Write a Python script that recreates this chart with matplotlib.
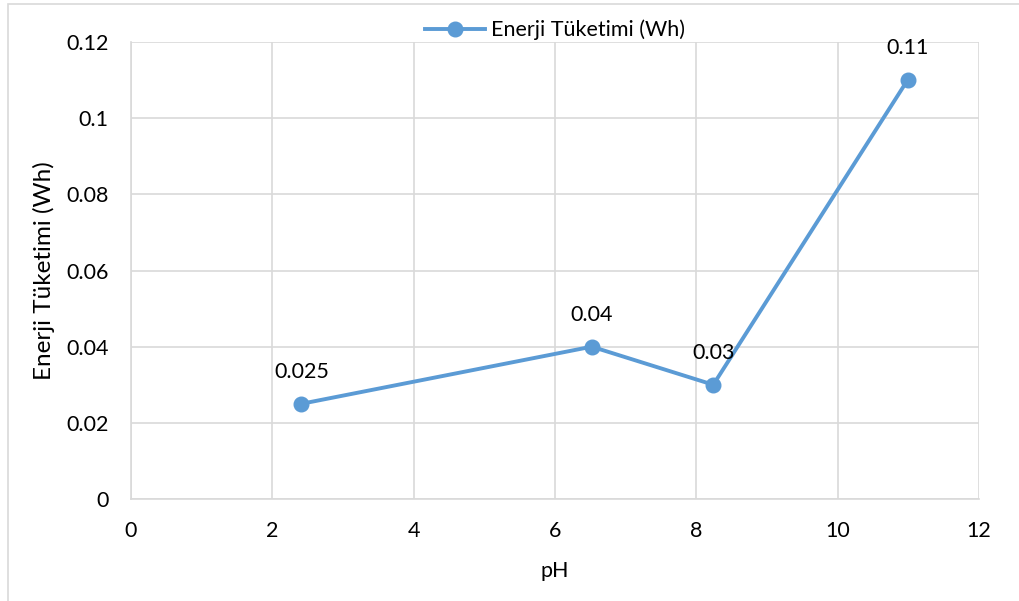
import matplotlib
matplotlib.use("Agg")
import matplotlib.pyplot as plt
from matplotlib.patches import Rectangle

# energy consumption at each pH
ph_values = [2.41, 6.52, 8.24, 10.99]
energy_wh = [0.025, 0.04, 0.03, 0.11]
energy_labels = ["0.025", "0.04", "0.03", "0.11"]

x_ticks = [0, 2, 4, 6, 8, 10, 12]
y_ticks = [0, 0.02, 0.04, 0.06, 0.08, 0.1, 0.12]
y_tick_labels = ["0", "0.02", "0.04", "0.06", "0.08", "0.1", "0.12"]

series_name = "Enerji Tüketimi (Wh)"
line_color = "#5B9BD5"
grid_color = "#D9D9D9"
font_size = 15.5

plt.rcParams["font.family"] = ["Lato", "DejaVu Sans"]

fig = plt.figure(figsize=(10.19, 6.01), dpi=100)
ax = fig.add_axes([0.1286, 0.1697, 0.9607 - 0.1286, 0.9301 - 0.1697])

ax.plot(ph_values, energy_wh, color=line_color, linewidth=2.8, marker="o",
        markersize=10.5, label=series_name, zorder=3)

for x, y, txt in zip(ph_values, energy_wh, energy_labels):
    ax.annotate(txt, (x, y), xytext=(0, 23), textcoords="offset points",
                ha="center", va="center", fontsize=font_size, color="#000000")

ax.set_xlim(0, 12)
ax.set_ylim(0, 0.12)
ax.set_xticks(x_ticks)
ax.set_yticks(y_ticks)
ax.set_yticklabels(y_tick_labels)
ax.tick_params(axis="both", length=0, labelsize=font_size, colors="#000000")
ax.tick_params(axis="x", pad=16)
ax.tick_params(axis="y", pad=16)
ax.grid(True, color=grid_color, linewidth=1.2, zorder=0)
ax.set_axisbelow(True)
for side in ["left", "bottom"]:
    ax.spines[side].set_color(grid_color)
    ax.spines[side].set_linewidth(1.2)
for side in ["top", "right"]:
    ax.spines[side].set_visible(False)

ax.set_xlabel("pH", fontsize=font_size, labelpad=14)
ax.set_ylabel(series_name, fontsize=17.5, labelpad=8)

ax.legend(loc="lower center", bbox_to_anchor=(0.5, 0.985), frameon=False,
          fontsize=font_size, handlelength=2.8, handletextpad=0.3,
          borderaxespad=0)

# thin outer chart border
fig.patches.append(Rectangle((8 / 1019, -0.05), 1.2, 1.05 - 4 / 601,
                             transform=fig.transFigure, fill=False,
                             edgecolor="#D9D9D9", linewidth=1.2))

fig.savefig("out.png", dpi=100)
